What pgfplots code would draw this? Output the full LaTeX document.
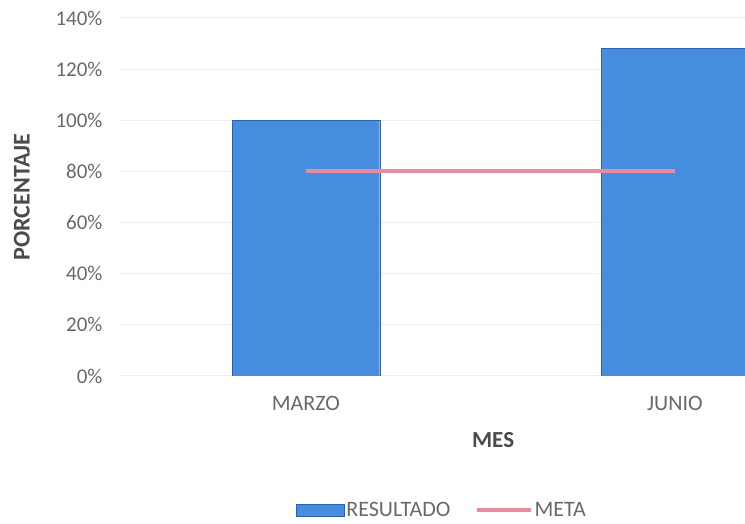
\documentclass[border=0pt]{standalone}
\usepackage{fontspec}
\setmainfont{Carlito}
\usepackage{pgfplots}
\pgfplotsset{compat=1.18}
\definecolor{barblue}{RGB}{72,142,222}
\definecolor{baredge}{RGB}{45,95,175}
\definecolor{metapink}{RGB}{232,140,162}
\definecolor{txt}{RGB}{105,105,105}
\definecolor{lbl}{RGB}{75,75,75}
\definecolor{gridc}{RGB}{238,238,238}
\pgfplotsset{
  barleg/.style={legend image code/.code={\draw[##1] (0pt,-6pt) rectangle (48pt,6pt);}},
  lineleg/.style={legend image code/.code={\draw[##1] (0pt,0pt) -- (54pt,0pt);}},
}
\begin{document}
\begin{tikzpicture}
\useasboundingbox (-120pt,-148pt) rectangle (625pt,376pt);
\begin{axis}[
    at={(0pt,0pt)}, anchor=south west,
    scale only axis, width=625pt, height=358pt,
    xmin=-0.504, xmax=1.19, ymin=0, ymax=140,
    axis line style={draw=none}, tick style={draw=none},
    xtick={0,1}, xticklabels={MARZO,JUNIO},
    ytick={0,20,...,140},
    yticklabel={\pgfmathprintnumber{\tick}\%},
    /pgf/number format/assume math mode=true,
    ymajorgrids, grid style={draw=gridc, line width=1pt},
    yticklabel style={font=\fontsize{21}{23}\selectfont, text=txt, xshift=-14pt},
    xticklabel style={font=\fontsize{22}{24}\selectfont, text=txt, yshift=-17pt},
    xlabel={MES},
    xlabel style={at={(axis description cs:0.597,-0.179)}, anchor=center,
        font=\fontsize{23}{25}\selectfont\bfseries, text=lbl},
    ylabel={PORCENTAJE},
    ylabel style={at={(axis description cs:-0.157,0.5)}, anchor=center,
        font=\fontsize{24}{26}\selectfont\bfseries, text=lbl},
    legend style={at={(axis description cs:0.515,-0.374)}, anchor=center,
        draw=none, fill=none, legend columns=2,
        font=\fontsize{22}{24}\selectfont, text=txt,
        /tikz/every even column/.append style={column sep=22pt}},
]
\addplot[ybar, bar width=0.4, fill=barblue, draw=baredge, barleg]
    coordinates {(0,100) (1,128)};
\addlegendentry{RESULTADO}
\addplot[draw=metapink, line width=4pt, lineleg]
    coordinates {(0,80) (1,80)};
\addlegendentry{META}
\end{axis}
\end{tikzpicture}
\end{document}
